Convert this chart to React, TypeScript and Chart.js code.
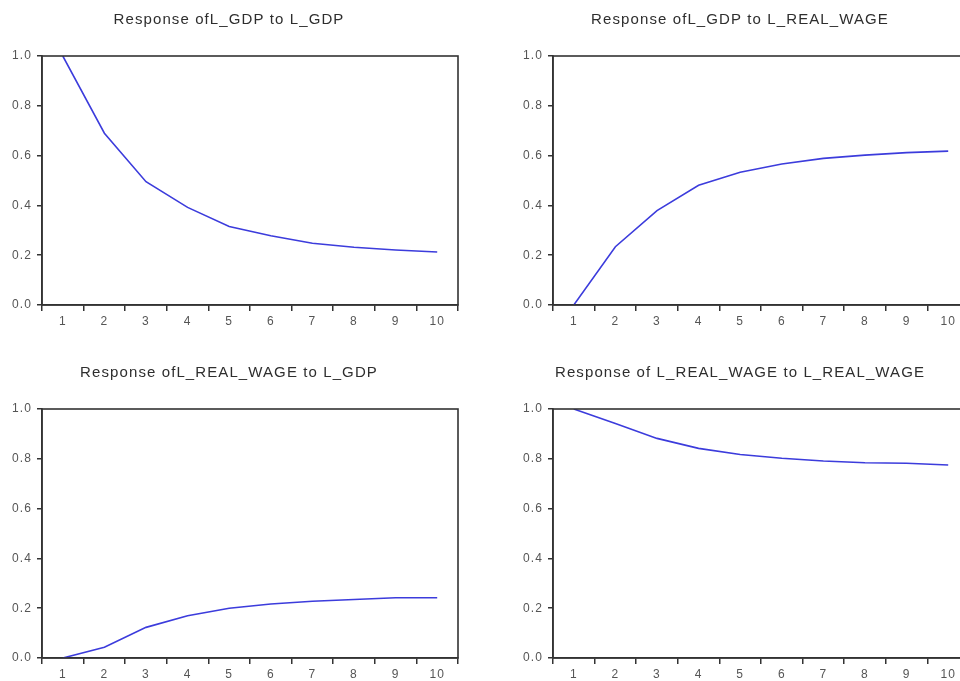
import React, { useEffect, useRef } from "react";
import { Chart, registerables } from "chart.js";

Chart.register(...registerables);

const periods = ["1", "2", "3", "4", "5", "6", "7", "8", "9", "10"];

const gdpToGdp = [1.0, 0.69, 0.495, 0.392, 0.315, 0.278, 0.248, 0.232, 0.221, 0.213];
const gdpToWage = [0.0, 0.234, 0.379, 0.481, 0.533, 0.566, 0.589, 0.602, 0.612, 0.618];
const wageToGdp = [0.0, 0.043, 0.123, 0.17, 0.2, 0.217, 0.228, 0.235, 0.242, 0.242];
const wageToWage = [1.0, 0.942, 0.882, 0.842, 0.817, 0.802, 0.791, 0.784, 0.782, 0.775];

const yTicks = [0, 0.2, 0.4, 0.6, 0.8, 1.0];

const titles = [
  "Response ofL_GDP to L_GDP",
  "Response ofL_GDP to L_REAL_WAGE",
  "Response ofL_REAL_WAGE to L_GDP",
  "Response of L_REAL_WAGE to L_REAL_WAGE",
];

const FONT = "'Liberation Sans', Arial, sans-serif";
const AXIS = "#333333";
const LINE = "#3c3cdc";

const framePlugin = {
  id: "frame",
  beforeDraw(chart: any) {
    (chart.ctx as any).letterSpacing = "1.1px";
  },
  afterDraw(chart: any) {
    const { ctx, chartArea } = chart;
    ctx.save();
    ctx.strokeStyle = AXIS;
    ctx.lineWidth = 1.6;
    ctx.strokeRect(chartArea.left, chartArea.top, chartArea.right - chartArea.left, chartArea.bottom - chartArea.top);
    ctx.restore();
  },
};

function Panel({ title, values, left, top }: { title: string; values: number[]; left: number; top: number }) {
  const ref = useRef<HTMLCanvasElement | null>(null);
  useEffect(() => {
    if (!ref.current) return;
    const chart = new Chart(ref.current, {
      type: "line",
      data: {
        labels: periods,
        datasets: [
          {
            data: values,
            borderColor: LINE,
            borderWidth: 1.6,
            pointRadius: 0,
            tension: 0,
            fill: false,
          },
        ],
      },
      options: {
        responsive: false,
        animation: false,
        events: [],
        layout: { padding: { top: 0, right: 22, bottom: 0, left: 0 } },
        plugins: {
          legend: { display: false },
          tooltip: { enabled: false },
          title: {
            display: true,
            text: title,
            color: "#2e2e2e",
            font: { family: FONT, size: 15, weight: "normal" },
            padding: { top: 11, bottom: 27 },
          },
        },
        scales: {
          x: {
            type: "category",
            offset: true,
            grid: {
              offset: true,
              drawOnChartArea: false,
              drawTicks: true,
              tickLength: 6,
              color: AXIS,
              lineWidth: 1.5,
            },
            border: { display: true, color: AXIS, width: 1.6 },
            ticks: {
              color: "#555555",
              font: { family: FONT, size: 12 },
              padding: 3,
              maxRotation: 0,
              autoSkip: false,
            },
            afterFit(scale: any) {
              scale.height = 35;
            },
          },
          y: {
            min: 0,
            max: 1,
            afterBuildTicks(scale: any) {
              scale.ticks = yTicks.map((v) => ({ value: v }));
            },
            grid: {
              drawOnChartArea: false,
              drawTicks: true,
              tickLength: 5,
              color: AXIS,
              lineWidth: 1.5,
            },
            border: { display: true, color: AXIS, width: 1.6 },
            ticks: {
              color: "#555555",
              font: { family: FONT, size: 12 },
              padding: 5,
              callback: (v: any) => Number(v).toFixed(1),
            },
            afterFit(scale: any) {
              scale.width = 42;
            },
          },
        },
      } as any,
      plugins: [framePlugin],
    });
    return () => chart.destroy();
  }, [title, values]);
  return (
    <canvas
      ref={ref}
      width={480}
      height={340}
      style={{ position: "absolute", left, top, width: 480, height: 340 }}
    />
  );
}

export default function App() {
  return (
    <div
      style={{
        position: "fixed",
        left: 0,
        top: 0,
        width: 960,
        height: 681,
        overflow: "hidden",
        background: "#ffffff",
      }}
    >
      <Panel title={titles[0]} values={gdpToGdp} left={0} top={0} />
      <Panel title={titles[1]} values={gdpToWage} left={511} top={0} />
      <Panel title={titles[2]} values={wageToGdp} left={0} top={353} />
      <Panel title={titles[3]} values={wageToWage} left={511} top={353} />
    </div>
  );
}
